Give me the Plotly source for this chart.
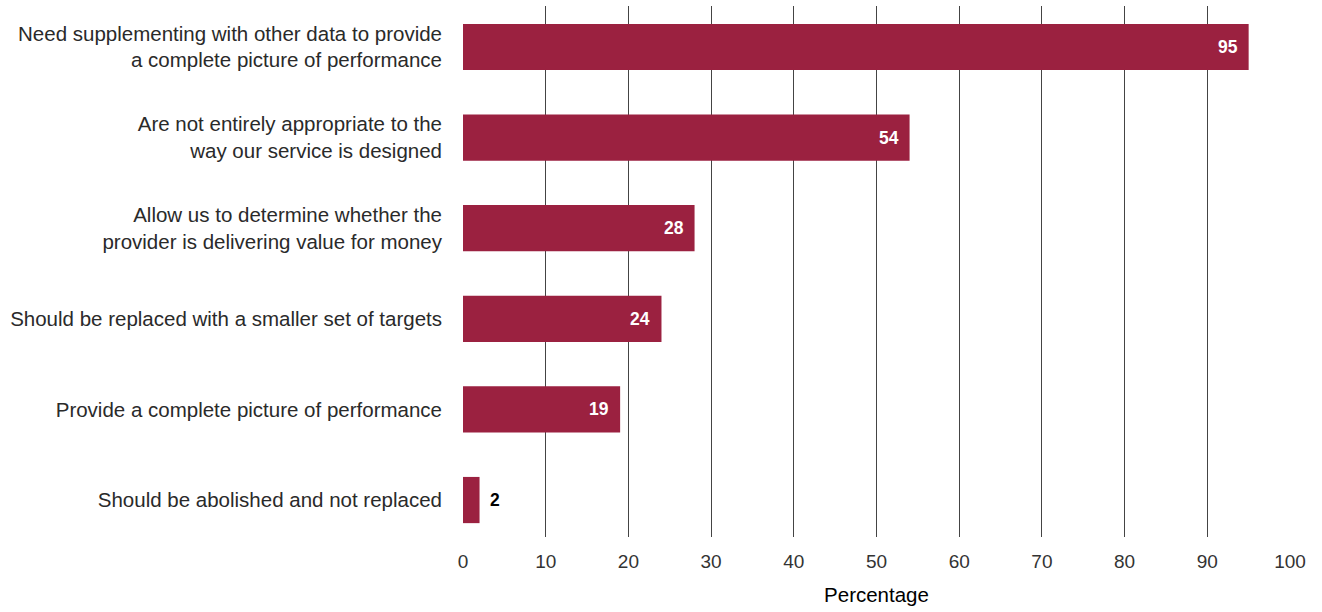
import plotly.graph_objects as go

# Survey responses: share of respondents agreeing with each statement
statements = [
    "Should be abolished and not replaced",
    "Provide a complete picture of performance",
    "Should be replaced with a smaller set of targets",
    "Allow us to determine whether the<br>provider is delivering value for money",
    "Are not entirely appropriate to the<br>way our service is designed",
    "Need supplementing with other data to provide<br>a complete picture of performance",
]
percentages = [2, 19, 24, 28, 54, 95]
x_ticks = [0, 10, 20, 30, 40, 50, 60, 70, 80, 90, 100]

BAR_COLOR = "#9b2140"
FONT = "Liberation Sans, Arial, Helvetica, sans-serif"

positions = list(range(len(statements)))

fig = go.Figure()
fig.add_trace(go.Bar(
    x=percentages,
    y=positions,
    orientation="h",
    width=0.51,
    marker=dict(color=BAR_COLOR, line=dict(width=0)),
    hoverinfo="x+y",
))

# Value labels: white inside long bars, dark outside short ones
for pos, val in zip(positions, percentages):
    if val >= 10:
        fig.add_annotation(x=val, y=pos, text=f"<b>{val}</b>", showarrow=False,
                           xanchor="right", xshift=-9,
                           font=dict(family=FONT, size=17.5, color="white"))
    else:
        fig.add_annotation(x=val, y=pos, text=f"<b>{val}</b>", showarrow=False,
                           xanchor="left", xshift=8,
                           font=dict(family=FONT, size=17.5, color="black"))

fig.update_layout(
    width=1322, height=612,
    margin=dict(l=463, r=32, t=6, b=75),
    paper_bgcolor="white", plot_bgcolor="white",
    showlegend=False,
    font=dict(family=FONT, size=18, color="#2a2a2a"),
    xaxis=dict(
        range=[0, 100],
        tickvals=x_ticks,
        ticktext=[str(t) for t in x_ticks],
        showgrid=True, gridcolor="#444", gridwidth=1,
        zeroline=False, showline=False,
        ticks="outside", ticklen=7, tickcolor="rgba(0,0,0,0)",
        tickfont=dict(family=FONT, size=19, color="#333"),
        title=dict(text="Percentage", standoff=16,
                   font=dict(family=FONT, size=20.5, color="black")),
        fixedrange=True,
    ),
    yaxis=dict(
        range=[-0.408, 5.4525],
        tickvals=positions,
        ticktext=statements,
        showgrid=False, zeroline=False, showline=False,
        ticks="", ticklabelstandoff=20,
        tickfont=dict(family=FONT, size=20.5, color="#2a2a2a"),
        fixedrange=True,
    ),
)

fig.write_html("out.html")
